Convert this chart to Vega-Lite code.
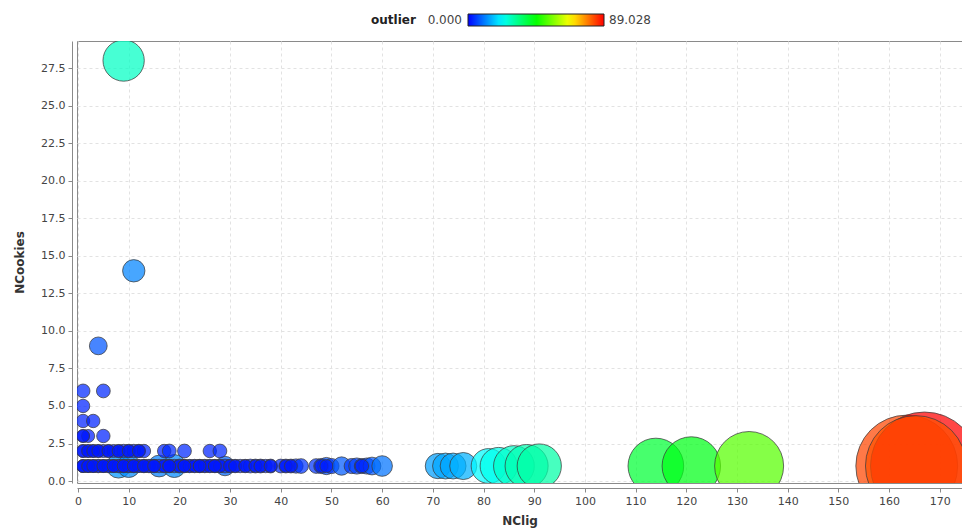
{
  "$schema": "https://vega.github.io/schema/vega-lite/v6.json",
  "width": 885,
  "height": 442,
  "autosize": {"type": "none"},
  "padding": {"left": 77, "top": 41, "right": 0, "bottom": 46},
  "background": "white",
  "config": {
    "view": {"stroke": "#8a8a8a", "strokeWidth": 1},
    "font": "DejaVu Sans",
    "axis": {
      "domainColor": "#8a8a8a",
      "tickColor": "#8a8a8a",
      "tickSize": 4,
      "labelColor": "#444444",
      "labelFontSize": 11,
      "labelFont": "DejaVu Sans",
      "titleFont": "DejaVu Sans",
      "titleFontSize": 12,
      "titleFontWeight": "bold",
      "titleColor": "#333333",
      "grid": true,
      "gridColor": "#e2e2e2",
      "gridDash": [3, 3],
      "gridWidth": 1,
      "labelPadding": 3,
      "labelFlush": false,
      "labelOverlap": false
    },
    "legend": {"padding": 0}
  },
  "data": {
    "values": [
      {"NClig": 8, "NCookies": 1, "outlier": 13},
      {"NClig": 10, "NCookies": 1, "outlier": 12},
      {"NClig": 16, "NCookies": 1, "outlier": 11},
      {"NClig": 19, "NCookies": 1, "outlier": 12},
      {"NClig": 29, "NCookies": 1, "outlier": 9},
      {"NClig": 1, "NCookies": 1, "outlier": 2.5},
      {"NClig": 2, "NCookies": 1, "outlier": 2.5},
      {"NClig": 3, "NCookies": 1, "outlier": 2.5},
      {"NClig": 4, "NCookies": 1, "outlier": 3},
      {"NClig": 5, "NCookies": 1, "outlier": 2.5},
      {"NClig": 6, "NCookies": 1, "outlier": 3},
      {"NClig": 7, "NCookies": 1, "outlier": 2.5},
      {"NClig": 8, "NCookies": 1, "outlier": 3},
      {"NClig": 9, "NCookies": 1, "outlier": 3},
      {"NClig": 10, "NCookies": 1, "outlier": 3},
      {"NClig": 11, "NCookies": 1, "outlier": 3},
      {"NClig": 12, "NCookies": 1, "outlier": 2.5},
      {"NClig": 13, "NCookies": 1, "outlier": 3},
      {"NClig": 14, "NCookies": 1, "outlier": 3},
      {"NClig": 15, "NCookies": 1, "outlier": 3},
      {"NClig": 16, "NCookies": 1, "outlier": 3},
      {"NClig": 17, "NCookies": 1, "outlier": 3},
      {"NClig": 18, "NCookies": 1, "outlier": 3},
      {"NClig": 19, "NCookies": 1, "outlier": 3},
      {"NClig": 20, "NCookies": 1, "outlier": 3.5},
      {"NClig": 21, "NCookies": 1, "outlier": 3},
      {"NClig": 22, "NCookies": 1, "outlier": 3},
      {"NClig": 23, "NCookies": 1, "outlier": 3},
      {"NClig": 24, "NCookies": 1, "outlier": 3},
      {"NClig": 25, "NCookies": 1, "outlier": 3},
      {"NClig": 26, "NCookies": 1, "outlier": 3},
      {"NClig": 27, "NCookies": 1, "outlier": 3},
      {"NClig": 28, "NCookies": 1, "outlier": 3},
      {"NClig": 29, "NCookies": 1, "outlier": 3.5},
      {"NClig": 30, "NCookies": 1, "outlier": 3},
      {"NClig": 31, "NCookies": 1, "outlier": 3},
      {"NClig": 32, "NCookies": 1, "outlier": 3},
      {"NClig": 33, "NCookies": 1, "outlier": 3},
      {"NClig": 34, "NCookies": 1, "outlier": 3.5},
      {"NClig": 35, "NCookies": 1, "outlier": 3.5},
      {"NClig": 36, "NCookies": 1, "outlier": 3.5},
      {"NClig": 37, "NCookies": 1, "outlier": 3},
      {"NClig": 38, "NCookies": 1, "outlier": 3.5},
      {"NClig": 40, "NCookies": 1, "outlier": 3.5},
      {"NClig": 41, "NCookies": 1, "outlier": 3.5},
      {"NClig": 42, "NCookies": 1, "outlier": 3.5},
      {"NClig": 43, "NCookies": 1, "outlier": 4},
      {"NClig": 44, "NCookies": 1, "outlier": 4.5},
      {"NClig": 47, "NCookies": 1, "outlier": 4.5},
      {"NClig": 48, "NCookies": 1, "outlier": 5},
      {"NClig": 49, "NCookies": 1, "outlier": 7},
      {"NClig": 50, "NCookies": 1, "outlier": 5},
      {"NClig": 52, "NCookies": 1, "outlier": 8},
      {"NClig": 54, "NCookies": 1, "outlier": 5},
      {"NClig": 55, "NCookies": 1, "outlier": 6},
      {"NClig": 56, "NCookies": 1, "outlier": 5},
      {"NClig": 57, "NCookies": 1, "outlier": 6},
      {"NClig": 58, "NCookies": 1, "outlier": 7.5},
      {"NClig": 60, "NCookies": 1, "outlier": 10},
      {"NClig": 1, "NCookies": 1, "outlier": 2},
      {"NClig": 2, "NCookies": 1, "outlier": 2},
      {"NClig": 3, "NCookies": 1, "outlier": 2},
      {"NClig": 4, "NCookies": 1, "outlier": 2},
      {"NClig": 5, "NCookies": 1, "outlier": 2},
      {"NClig": 6, "NCookies": 1, "outlier": 2},
      {"NClig": 7, "NCookies": 1, "outlier": 2},
      {"NClig": 8, "NCookies": 1, "outlier": 2},
      {"NClig": 9, "NCookies": 1, "outlier": 2},
      {"NClig": 10, "NCookies": 1, "outlier": 2},
      {"NClig": 11, "NCookies": 1, "outlier": 2},
      {"NClig": 12, "NCookies": 1, "outlier": 2},
      {"NClig": 13, "NCookies": 1, "outlier": 2},
      {"NClig": 14, "NCookies": 1, "outlier": 2},
      {"NClig": 15, "NCookies": 1, "outlier": 2},
      {"NClig": 17, "NCookies": 1, "outlier": 2},
      {"NClig": 18, "NCookies": 1, "outlier": 2},
      {"NClig": 20, "NCookies": 1, "outlier": 2},
      {"NClig": 21, "NCookies": 1, "outlier": 2},
      {"NClig": 22, "NCookies": 1, "outlier": 2},
      {"NClig": 23, "NCookies": 1, "outlier": 2},
      {"NClig": 24, "NCookies": 1, "outlier": 2},
      {"NClig": 25, "NCookies": 1, "outlier": 2},
      {"NClig": 26, "NCookies": 1, "outlier": 2},
      {"NClig": 27, "NCookies": 1, "outlier": 2},
      {"NClig": 28, "NCookies": 1, "outlier": 2},
      {"NClig": 30, "NCookies": 1, "outlier": 2},
      {"NClig": 31, "NCookies": 1, "outlier": 2},
      {"NClig": 33, "NCookies": 1, "outlier": 2},
      {"NClig": 35, "NCookies": 1, "outlier": 2},
      {"NClig": 36, "NCookies": 1, "outlier": 2},
      {"NClig": 38, "NCookies": 1, "outlier": 2},
      {"NClig": 41, "NCookies": 1, "outlier": 2},
      {"NClig": 42, "NCookies": 1, "outlier": 2},
      {"NClig": 48, "NCookies": 1, "outlier": 2.5},
      {"NClig": 49, "NCookies": 1, "outlier": 2.5},
      {"NClig": 56, "NCookies": 1, "outlier": 3},
      {"NClig": 1, "NCookies": 1, "outlier": 2},
      {"NClig": 2, "NCookies": 1, "outlier": 2},
      {"NClig": 3, "NCookies": 1, "outlier": 2},
      {"NClig": 5, "NCookies": 1, "outlier": 2},
      {"NClig": 7, "NCookies": 1, "outlier": 2},
      {"NClig": 9, "NCookies": 1, "outlier": 2},
      {"NClig": 11, "NCookies": 1, "outlier": 2},
      {"NClig": 13, "NCookies": 1, "outlier": 2},
      {"NClig": 15, "NCookies": 1, "outlier": 2},
      {"NClig": 18, "NCookies": 1, "outlier": 2},
      {"NClig": 21, "NCookies": 1, "outlier": 2},
      {"NClig": 24, "NCookies": 1, "outlier": 2},
      {"NClig": 27, "NCookies": 1, "outlier": 2},
      {"NClig": 1, "NCookies": 2, "outlier": 2.5},
      {"NClig": 2, "NCookies": 2, "outlier": 2.5},
      {"NClig": 3, "NCookies": 2, "outlier": 2.5},
      {"NClig": 4, "NCookies": 2, "outlier": 2.5},
      {"NClig": 5, "NCookies": 2, "outlier": 2.5},
      {"NClig": 6, "NCookies": 2, "outlier": 2.5},
      {"NClig": 7, "NCookies": 2, "outlier": 2.5},
      {"NClig": 8, "NCookies": 2, "outlier": 2.5},
      {"NClig": 9, "NCookies": 2, "outlier": 3},
      {"NClig": 10, "NCookies": 2, "outlier": 3},
      {"NClig": 11, "NCookies": 2, "outlier": 3},
      {"NClig": 12, "NCookies": 2, "outlier": 3},
      {"NClig": 13, "NCookies": 2, "outlier": 3},
      {"NClig": 1, "NCookies": 2, "outlier": 2},
      {"NClig": 2, "NCookies": 2, "outlier": 2},
      {"NClig": 3, "NCookies": 2, "outlier": 2},
      {"NClig": 4, "NCookies": 2, "outlier": 2},
      {"NClig": 6, "NCookies": 2, "outlier": 2},
      {"NClig": 8, "NCookies": 2, "outlier": 2},
      {"NClig": 10, "NCookies": 2, "outlier": 2},
      {"NClig": 12, "NCookies": 2, "outlier": 2},
      {"NClig": 17, "NCookies": 2, "outlier": 3},
      {"NClig": 18, "NCookies": 2, "outlier": 3.5},
      {"NClig": 21, "NCookies": 2, "outlier": 3.5},
      {"NClig": 26, "NCookies": 2, "outlier": 3},
      {"NClig": 28, "NCookies": 2, "outlier": 3.5},
      {"NClig": 1, "NCookies": 3, "outlier": 2.5},
      {"NClig": 2, "NCookies": 3, "outlier": 2.5},
      {"NClig": 1, "NCookies": 3, "outlier": 2},
      {"NClig": 5, "NCookies": 3, "outlier": 3},
      {"NClig": 1, "NCookies": 4, "outlier": 3},
      {"NClig": 3, "NCookies": 4, "outlier": 3},
      {"NClig": 1, "NCookies": 5, "outlier": 3},
      {"NClig": 1, "NCookies": 6, "outlier": 3.5},
      {"NClig": 5, "NCookies": 6, "outlier": 3.5},
      {"NClig": 4, "NCookies": 9, "outlier": 7.5},
      {"NClig": 11, "NCookies": 14, "outlier": 11.5},
      {"NClig": 9, "NCookies": 28, "outlier": 27.5},
      {"NClig": 71, "NCookies": 1, "outlier": 14},
      {"NClig": 72.5, "NCookies": 1, "outlier": 14.5},
      {"NClig": 74, "NCookies": 1, "outlier": 14.5},
      {"NClig": 76, "NCookies": 1, "outlier": 15.5},
      {"NClig": 81, "NCookies": 1, "outlier": 22},
      {"NClig": 83, "NCookies": 1, "outlier": 24},
      {"NClig": 86, "NCookies": 1, "outlier": 27},
      {"NClig": 88.5, "NCookies": 1, "outlier": 29},
      {"NClig": 91, "NCookies": 1, "outlier": 30},
      {"NClig": 114, "NCookies": 1, "outlier": 40},
      {"NClig": 121, "NCookies": 1, "outlier": 42.5},
      {"NClig": 132.4, "NCookies": 1, "outlier": 52},
      {"NClig": 163.5, "NCookies": 1, "outlier": 83},
      {"NClig": 167, "NCookies": 1, "outlier": 89.028},
      {"NClig": 165.3, "NCookies": 1, "outlier": 82}
    ]
  },
  "mark": {
    "type": "circle",
    "clip": true,
    "fillOpacity": 0.72,
    "stroke": "#3c3c3c",
    "strokeWidth": 1,
    "strokeOpacity": 0.75
  },
  "encoding": {
    "x": {
      "field": "NClig",
      "type": "quantitative",
      "scale": {"domain": [-0.2, 174.4], "nice": false, "zero": false},
      "axis": {
        "title": "NClig",
        "values": [0, 10, 20, 30, 40, 50, 60, 70, 80, 90, 100, 110, 120, 130, 140, 150, 160, 170],
        "format": "d",
        "offset": 5,
        "titlePadding": 9
      }
    },
    "y": {
      "field": "NCookies",
      "type": "quantitative",
      "scale": {"domain": [-0.13, 29.3], "nice": false, "zero": false},
      "axis": {
        "title": "NCookies",
        "values": [0, 2.5, 5, 7.5, 10, 12.5, 15, 17.5, 20, 22.5, 25, 27.5],
        "format": ".1f",
        "offset": 5,
        "titlePadding": 14
      }
    },
    "color": {
      "field": "outlier",
      "type": "quantitative",
      "scale": {"domain": [0, 89.028], "range": ["#0000ff", "#ff0000"], "interpolate": "hsl-long"},
      "legend": {
        "type": "gradient",
        "orient": "none",
        "legendX": 294,
        "legendY": -27,
        "direction": "horizontal",
        "title": "outlier",
        "titleOrient": "left",
        "titleFontSize": 12,
        "titleFontWeight": "bold",
        "titleColor": "#222222",
        "titlePadding": 52,
        "gradientLength": 136,
        "gradientThickness": 12,
        "gradientStrokeColor": "#222222",
        "gradientStrokeWidth": 1,
        "values": [0, 89.028],
        "format": ".3f",
        "labelFontSize": 12,
        "labelColor": "#444444",
        "labelOverlap": false,
        "encode": {
          "labels": {
            "update": {
              "align": {"signal": "datum.value < 1 ? 'right' : 'left'"},
              "dx": {"signal": "datum.value < 1 ? -6 : 5"},
              "baseline": {"value": "middle"},
              "y": {"value": 6}
            }
          }
        }
      }
    },
    "size": {
      "field": "outlier",
      "type": "quantitative",
      "scale": {"type": "pow", "exponent": 1.7, "domain": [0, 89.03], "range": [144, 11664]},
      "legend": null
    }
  }
}
